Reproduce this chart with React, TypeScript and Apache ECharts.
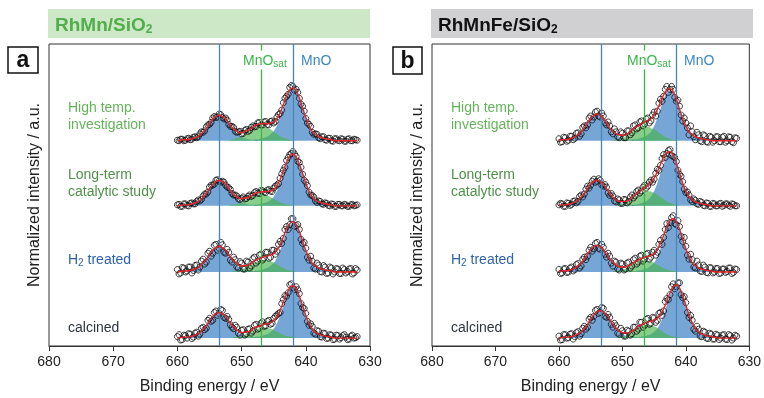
import React, { useEffect, useRef } from "react";
import * as echarts from "echarts";

// ---------- data ----------
const energies = [660, 659.5, 659, 658.5, 658, 657.5, 657, 656.5, 656, 655.5, 655, 654.5, 654, 653.5, 653, 652.5, 652, 651.5, 651, 650.5, 650, 649.5, 649, 648.5, 648, 647.5, 647, 646.5, 646, 645.5, 645, 644.5, 644, 643.5, 643, 642.5, 642, 641.5, 641, 640.5, 640, 639.5, 639, 638.5, 638, 637.5, 637, 636.5, 636, 635.5, 635, 634.5, 634, 633.5, 633, 632.5, 632];
const energies2 = [659.75, 659.25, 658.75, 658.25, 657.75, 657.25, 656.75, 656.25, 655.75, 655.25, 654.75, 654.25, 653.75, 653.25, 652.75, 652.25, 651.75, 651.25, 650.75, 650.25, 649.75, 649.25, 648.75, 648.25, 647.75, 647.25, 646.75, 646.25, 645.75, 645.25, 644.75, 644.25, 643.75, 643.25, 642.75, 642.25, 641.75, 641.25, 640.75, 640.25, 639.75, 639.25, 638.75, 638.25, 637.75, 637.25, 636.75, 636.25, 635.75, 635.25, 634.75, 634.25, 633.75, 633.25, 632.75, 632.25];
const componentStep = 0.5;

// vertical reference lines: MnO 2p1/2, MnO satellite, MnO 2p3/2
const aRefLines = [653.5, 647, 642];
const bRefLines = [653.4, 646.6, 641.5];

// vertical offsets of the stacked spectra: calcined, H2 treated, long-term, high temp
const offsets = [0.16, 1.5, 2.84, 4.16];

// ---- panel a measured points (on energies / energies2) ----
const aCalcinedPoints = [0.03, -0.04, 0.06, 0.0, 0.08, 0.02, 0.12, 0.08, 0.22, 0.2, 0.4, 0.36, 0.55, 0.5, 0.56, 0.4, 0.38, 0.22, 0.26, 0.1, 0.16, 0.06, 0.18, 0.1, 0.26, 0.18, 0.3, 0.24, 0.34, 0.28, 0.4, 0.47, 0.52, 0.78, 0.85, 1.08, 1.02, 1.04, 0.9, 0.62, 0.5, 0.26, 0.24, 0.08, 0.14, 0.02, 0.09, 0.0, 0.06, -0.02, 0.05, 0.01, 0.07, -0.03, 0.04, 0.0, 0.03];
const aCalcinedPoints2 = [0.07, -0.03, 0.05, 0.09, -0.01, 0.1, 0.04, 0.2, 0.17, 0.36, 0.34, 0.52, 0.46, 0.58, 0.42, 0.44, 0.27, 0.19, 0.22, 0.06, 0.17, 0.09, 0.19, 0.14, 0.28, 0.2, 0.33, 0.25, 0.36, 0.3, 0.44, 0.5, 0.7, 0.86, 0.92, 1.1, 0.98, 0.98, 0.7, 0.6, 0.34, 0.29, 0.1, 0.15, 0.03, 0.1, -0.01, 0.07, -0.03, 0.06, -0.02, 0.05, 0.02, -0.02, 0.06, 0.01];
const aH2Points = [0.05, -0.02, 0.08, 0.02, 0.1, 0.03, 0.14, 0.1, 0.26, 0.2, 0.42, 0.38, 0.56, 0.48, 0.55, 0.38, 0.4, 0.2, 0.25, 0.08, 0.18, 0.06, 0.2, 0.12, 0.3, 0.22, 0.36, 0.28, 0.4, 0.3, 0.44, 0.42, 0.62, 0.68, 0.92, 0.96, 1.08, 0.94, 0.86, 0.58, 0.48, 0.24, 0.22, 0.06, 0.14, 0.0, 0.1, -0.02, 0.08, 0.0, 0.06, -0.03, 0.05, 0.01, 0.07, -0.02, 0.04];
const aH2Points2 = [-0.04, 0.09, 0.0, 0.1, -0.02, 0.13, 0.04, 0.22, 0.16, 0.38, 0.32, 0.54, 0.44, 0.6, 0.4, 0.46, 0.24, 0.3, 0.1, 0.21, 0.06, 0.22, 0.08, 0.27, 0.18, 0.34, 0.24, 0.4, 0.28, 0.44, 0.36, 0.56, 0.58, 0.86, 0.86, 1.08, 0.92, 0.96, 0.66, 0.6, 0.3, 0.32, 0.08, 0.18, 0.01, 0.13, -0.03, 0.1, -0.04, 0.07, -0.03, 0.08, -0.02, 0.06, -0.04, 0.07];
const aLongPoints = [0.02, -0.01, 0.04, 0.01, 0.05, 0.04, 0.09, 0.1, 0.2, 0.24, 0.38, 0.42, 0.52, 0.5, 0.5, 0.42, 0.37, 0.25, 0.22, 0.14, 0.15, 0.14, 0.19, 0.19, 0.27, 0.26, 0.31, 0.28, 0.32, 0.3, 0.36, 0.42, 0.56, 0.72, 0.92, 1.04, 1.1, 1.0, 0.88, 0.64, 0.48, 0.28, 0.21, 0.1, 0.1, 0.04, 0.06, 0.01, 0.04, -0.01, 0.03, 0.0, 0.03, -0.01, 0.02, 0.0, 0.02];
const aLongPoints2 = [0.03, -0.01, 0.04, 0.0, 0.06, 0.04, 0.12, 0.13, 0.24, 0.28, 0.42, 0.44, 0.53, 0.48, 0.48, 0.38, 0.33, 0.22, 0.2, 0.13, 0.18, 0.15, 0.22, 0.21, 0.29, 0.25, 0.31, 0.27, 0.33, 0.29, 0.4, 0.45, 0.65, 0.78, 0.98, 1.06, 1.05, 0.9, 0.78, 0.52, 0.41, 0.22, 0.18, 0.07, 0.09, 0.03, 0.05, 0.0, 0.03, -0.01, 0.03, 0.0, 0.02, -0.01, 0.03, 0.01];
const aHighPoints = [0.01, 0.03, 0.0, 0.04, 0.02, 0.07, 0.06, 0.14, 0.17, 0.28, 0.33, 0.46, 0.47, 0.54, 0.47, 0.46, 0.33, 0.29, 0.19, 0.18, 0.14, 0.21, 0.19, 0.27, 0.28, 0.36, 0.32, 0.38, 0.33, 0.39, 0.36, 0.48, 0.55, 0.77, 0.9, 1.08, 1.1, 1.04, 0.86, 0.7, 0.45, 0.33, 0.17, 0.14, 0.06, 0.08, 0.02, 0.05, 0.0, 0.04, 0.01, 0.04, -0.01, 0.03, 0.0, 0.03, 0.01];
const aHighPoints2 = [0.0, 0.03, 0.01, 0.05, 0.03, 0.08, 0.08, 0.18, 0.2, 0.32, 0.37, 0.49, 0.48, 0.53, 0.44, 0.42, 0.29, 0.27, 0.17, 0.19, 0.15, 0.23, 0.21, 0.3, 0.29, 0.37, 0.32, 0.39, 0.32, 0.4, 0.39, 0.53, 0.62, 0.86, 0.94, 1.12, 1.02, 0.98, 0.74, 0.6, 0.36, 0.29, 0.13, 0.13, 0.04, 0.08, 0.01, 0.05, -0.01, 0.04, 0.0, 0.03, -0.01, 0.04, 0.0, 0.02];

// ---- panel b measured points ----
const bCalcinedPoints = [0.04, -0.03, 0.07, 0.01, 0.09, 0.03, 0.13, 0.09, 0.24, 0.22, 0.42, 0.44, 0.58, 0.52, 0.6, 0.42, 0.42, 0.22, 0.25, 0.08, 0.15, 0.04, 0.14, 0.09, 0.22, 0.18, 0.32, 0.26, 0.4, 0.3, 0.41, 0.36, 0.52, 0.55, 0.8, 0.88, 1.1, 1.04, 1.12, 0.82, 0.72, 0.42, 0.36, 0.14, 0.18, 0.03, 0.12, -0.01, 0.08, -0.02, 0.06, 0.0, 0.07, -0.03, 0.05, 0.0, 0.04];
const bCalcinedPoints2 = [-0.04, 0.07, 0.0, 0.08, -0.02, 0.11, 0.04, 0.2, 0.18, 0.38, 0.36, 0.56, 0.5, 0.62, 0.44, 0.48, 0.28, 0.3, 0.1, 0.2, 0.04, 0.16, 0.06, 0.22, 0.14, 0.32, 0.22, 0.38, 0.28, 0.42, 0.32, 0.5, 0.46, 0.74, 0.78, 1.04, 1.0, 1.12, 0.88, 0.84, 0.52, 0.46, 0.18, 0.24, 0.04, 0.14, 0.0, 0.1, -0.02, 0.08, -0.03, 0.06, -0.02, 0.07, -0.04, 0.06];
const bH2Points = [0.05, -0.02, 0.07, 0.0, 0.1, 0.05, 0.17, 0.12, 0.3, 0.32, 0.5, 0.47, 0.6, 0.46, 0.5, 0.3, 0.32, 0.12, 0.2, 0.04, 0.16, 0.06, 0.2, 0.12, 0.28, 0.2, 0.34, 0.26, 0.38, 0.3, 0.44, 0.4, 0.64, 0.7, 0.98, 1.0, 1.14, 0.96, 0.92, 0.62, 0.52, 0.26, 0.25, 0.08, 0.14, 0.01, 0.1, -0.02, 0.08, 0.0, 0.07, -0.02, 0.06, 0.01, 0.08, -0.01, 0.05];
const bH2Points2 = [-0.03, 0.06, -0.01, 0.08, 0.02, 0.15, 0.08, 0.26, 0.25, 0.44, 0.42, 0.58, 0.48, 0.56, 0.36, 0.38, 0.18, 0.22, 0.06, 0.18, 0.04, 0.18, 0.08, 0.25, 0.16, 0.32, 0.22, 0.36, 0.26, 0.4, 0.34, 0.56, 0.56, 0.86, 0.9, 1.1, 0.98, 1.04, 0.72, 0.7, 0.34, 0.36, 0.1, 0.22, 0.02, 0.14, -0.01, 0.09, -0.02, 0.07, -0.03, 0.06, -0.01, 0.08, -0.03, 0.06];
const bLongPoints = [0.02, 0.04, -0.01, 0.05, 0.03, 0.1, 0.09, 0.22, 0.24, 0.4, 0.42, 0.54, 0.5, 0.52, 0.4, 0.38, 0.21, 0.2, 0.08, 0.12, 0.05, 0.12, 0.09, 0.22, 0.2, 0.32, 0.3, 0.42, 0.4, 0.52, 0.54, 0.74, 0.82, 1.04, 1.06, 1.14, 1.0, 0.9, 0.64, 0.49, 0.27, 0.22, 0.09, 0.11, 0.03, 0.07, 0.0, 0.05, -0.01, 0.04, 0.0, 0.05, 0.01, 0.04, -0.01, 0.03, 0.0];
const bLongPoints2 = [0.05, -0.01, 0.06, 0.01, 0.09, 0.06, 0.19, 0.18, 0.34, 0.36, 0.5, 0.48, 0.55, 0.42, 0.43, 0.26, 0.25, 0.1, 0.14, 0.05, 0.13, 0.06, 0.18, 0.16, 0.29, 0.26, 0.38, 0.36, 0.48, 0.48, 0.66, 0.72, 0.96, 0.98, 1.12, 1.02, 0.98, 0.72, 0.6, 0.34, 0.28, 0.12, 0.14, 0.04, 0.09, 0.01, 0.06, -0.01, 0.05, 0.0, 0.04, -0.01, 0.04, 0.01, 0.04, 0.0];
const bHighPoints = [0.04, -0.02, 0.06, 0.01, 0.09, 0.05, 0.16, 0.14, 0.3, 0.32, 0.5, 0.48, 0.6, 0.48, 0.5, 0.32, 0.3, 0.14, 0.18, 0.06, 0.15, 0.06, 0.2, 0.16, 0.32, 0.26, 0.4, 0.34, 0.46, 0.4, 0.58, 0.6, 0.84, 0.9, 1.1, 1.04, 1.04, 0.8, 0.7, 0.4, 0.36, 0.12, 0.18, 0.02, 0.12, -0.02, 0.1, -0.03, 0.07, 0.0, 0.08, -0.02, 0.09, 0.0, 0.07, -0.04, 0.05];
const bHighPoints2 = [-0.03, 0.07, -0.01, 0.09, 0.02, 0.15, 0.09, 0.27, 0.26, 0.46, 0.42, 0.58, 0.5, 0.56, 0.36, 0.38, 0.18, 0.24, 0.08, 0.18, 0.06, 0.2, 0.12, 0.3, 0.24, 0.38, 0.3, 0.44, 0.36, 0.52, 0.5, 0.76, 0.8, 1.04, 0.98, 1.1, 0.88, 0.82, 0.52, 0.46, 0.26, 0.3, 0.08, 0.17, 0.0, 0.12, -0.02, 0.09, -0.03, 0.08, -0.02, 0.07, -0.03, 0.08, -0.02, 0.06];

// ---- fitted components (values every 0.5 eV from the given start energy downwards) ----
const aCalcinedP12 = [0.01, 0.02, 0.02, 0.03, 0.05, 0.07, 0.11, 0.18, 0.25, 0.35, 0.44, 0.49, 0.52, 0.49, 0.44, 0.35, 0.25, 0.18, 0.11, 0.07, 0.05, 0.03, 0.02, 0.02, 0.01];
const aCalcinedSat = [0.01, 0.02, 0.03, 0.04, 0.07, 0.1, 0.13, 0.17, 0.19, 0.21, 0.22, 0.21, 0.19, 0.17, 0.13, 0.1, 0.07, 0.04, 0.03, 0.02, 0.01];
const aCalcinedP32 = [0.02, 0.03, 0.04, 0.06, 0.08, 0.12, 0.19, 0.3, 0.46, 0.66, 0.85, 0.99, 1.04, 0.99, 0.85, 0.66, 0.46, 0.3, 0.19, 0.12, 0.08, 0.06, 0.04, 0.03, 0.02];
const aH2P12 = [0.01, 0.02, 0.02, 0.03, 0.05, 0.07, 0.11, 0.18, 0.25, 0.35, 0.44, 0.49, 0.52, 0.49, 0.44, 0.35, 0.25, 0.18, 0.11, 0.07, 0.05, 0.03, 0.02, 0.02, 0.01];
const aH2Sat = [0.01, 0.02, 0.03, 0.05, 0.08, 0.11, 0.15, 0.19, 0.22, 0.24, 0.25, 0.24, 0.22, 0.19, 0.15, 0.11, 0.08, 0.05, 0.03, 0.02, 0.01];
const aH2P32 = [0.02, 0.03, 0.04, 0.06, 0.08, 0.12, 0.18, 0.29, 0.44, 0.63, 0.82, 0.95, 1.0, 0.95, 0.82, 0.63, 0.44, 0.29, 0.18, 0.12, 0.08, 0.06, 0.04, 0.03, 0.02];
const aLongP12 = [0.01, 0.02, 0.02, 0.03, 0.05, 0.07, 0.11, 0.18, 0.25, 0.35, 0.44, 0.49, 0.52, 0.49, 0.44, 0.35, 0.25, 0.18, 0.11, 0.07, 0.05, 0.03, 0.02, 0.02, 0.01];
const aLongSat = [0.01, 0.02, 0.03, 0.05, 0.07, 0.11, 0.14, 0.18, 0.21, 0.23, 0.24, 0.23, 0.21, 0.18, 0.14, 0.11, 0.07, 0.05, 0.03, 0.02, 0.01];
const aLongP32 = [0.02, 0.03, 0.04, 0.06, 0.08, 0.12, 0.19, 0.3, 0.46, 0.66, 0.85, 0.99, 1.04, 0.99, 0.85, 0.66, 0.46, 0.3, 0.19, 0.12, 0.08, 0.06, 0.04, 0.03, 0.02];
const aHighP12 = [0.01, 0.02, 0.02, 0.03, 0.05, 0.07, 0.11, 0.18, 0.25, 0.35, 0.44, 0.49, 0.52, 0.49, 0.44, 0.35, 0.25, 0.18, 0.11, 0.07, 0.05, 0.03, 0.02, 0.02, 0.01];
const aHighSat = [0.01, 0.02, 0.04, 0.06, 0.09, 0.14, 0.18, 0.23, 0.26, 0.29, 0.3, 0.29, 0.26, 0.23, 0.18, 0.14, 0.09, 0.06, 0.04, 0.02, 0.01];
const aHighP32 = [0.02, 0.03, 0.04, 0.06, 0.08, 0.13, 0.19, 0.31, 0.47, 0.67, 0.87, 1.01, 1.06, 1.01, 0.87, 0.67, 0.47, 0.31, 0.19, 0.13, 0.08, 0.06, 0.04, 0.03, 0.02];

const bCalcinedP12 = [0.01, 0.02, 0.02, 0.03, 0.05, 0.08, 0.12, 0.19, 0.27, 0.38, 0.47, 0.53, 0.56, 0.53, 0.47, 0.38, 0.27, 0.19, 0.12, 0.08, 0.05, 0.03, 0.02, 0.02, 0.01];
const bCalcinedSat = [0.01, 0.02, 0.03, 0.05, 0.08, 0.12, 0.16, 0.21, 0.24, 0.26, 0.27, 0.26, 0.24, 0.21, 0.16, 0.12, 0.08, 0.05, 0.03, 0.02, 0.01];
const bCalcinedP32 = [0.02, 0.03, 0.04, 0.06, 0.08, 0.13, 0.19, 0.31, 0.47, 0.67, 0.87, 1.01, 1.06, 1.01, 0.87, 0.67, 0.47, 0.31, 0.19, 0.13, 0.08, 0.06, 0.04, 0.03, 0.02];
const bH2P12 = [0.01, 0.02, 0.02, 0.03, 0.05, 0.08, 0.12, 0.18, 0.26, 0.36, 0.45, 0.51, 0.54, 0.51, 0.45, 0.36, 0.26, 0.18, 0.12, 0.08, 0.05, 0.03, 0.02, 0.02, 0.01];
const bH2Sat = [0.01, 0.02, 0.03, 0.05, 0.07, 0.11, 0.14, 0.18, 0.21, 0.23, 0.24, 0.23, 0.21, 0.18, 0.14, 0.11, 0.07, 0.05, 0.03, 0.02, 0.01];
const bH2P32 = [0.02, 0.03, 0.04, 0.06, 0.08, 0.13, 0.19, 0.31, 0.47, 0.67, 0.87, 1.01, 1.06, 1.01, 0.87, 0.67, 0.47, 0.31, 0.19, 0.13, 0.08, 0.06, 0.04, 0.03, 0.02];
const bLongP12 = [0.01, 0.02, 0.02, 0.03, 0.05, 0.07, 0.11, 0.18, 0.25, 0.35, 0.44, 0.49, 0.52, 0.49, 0.44, 0.35, 0.25, 0.18, 0.11, 0.07, 0.05, 0.03, 0.02, 0.02, 0.01];
const bLongSat = [0.01, 0.02, 0.04, 0.06, 0.09, 0.14, 0.18, 0.23, 0.26, 0.29, 0.3, 0.29, 0.26, 0.23, 0.18, 0.14, 0.09, 0.06, 0.04, 0.02, 0.01];
const bLongP32 = [0.02, 0.03, 0.04, 0.06, 0.08, 0.12, 0.19, 0.3, 0.46, 0.66, 0.85, 0.99, 1.04, 0.99, 0.85, 0.66, 0.46, 0.3, 0.19, 0.12, 0.08, 0.06, 0.04, 0.03, 0.02];
const bHighP12 = [0.01, 0.02, 0.02, 0.03, 0.05, 0.08, 0.12, 0.18, 0.26, 0.36, 0.45, 0.51, 0.54, 0.51, 0.45, 0.36, 0.26, 0.18, 0.12, 0.08, 0.05, 0.03, 0.02, 0.02, 0.01];
const bHighSat = [0.01, 0.02, 0.04, 0.06, 0.09, 0.14, 0.18, 0.23, 0.26, 0.29, 0.3, 0.29, 0.26, 0.23, 0.18, 0.14, 0.09, 0.06, 0.04, 0.02, 0.01];
const bHighP32 = [0.02, 0.03, 0.04, 0.06, 0.08, 0.12, 0.18, 0.3, 0.45, 0.64, 0.84, 0.97, 1.02, 0.97, 0.84, 0.64, 0.45, 0.3, 0.18, 0.12, 0.08, 0.06, 0.04, 0.03, 0.02];

// start energies of [2p1/2, satellite, 2p3/2] components for each spectrum (calcined → high temp)
const aComponentStarts = [[659.5, 651.5, 648], [659.5, 651.5, 648], [659.5, 652, 648], [659.5, 652, 648]];
const bComponentStarts = [[659.5, 651, 647.5], [660, 651.5, 648], [660, 651, 648.5], [660, 651.5, 648.5]];

const aPoints = [aCalcinedPoints, aH2Points, aLongPoints, aHighPoints];
const aPoints2 = [aCalcinedPoints2, aH2Points2, aLongPoints2, aHighPoints2];
const bPoints = [bCalcinedPoints, bH2Points, bLongPoints, bHighPoints];
const bPoints2 = [bCalcinedPoints2, bH2Points2, bLongPoints2, bHighPoints2];
const aComponents = [[aCalcinedP12, aCalcinedSat, aCalcinedP32], [aH2P12, aH2Sat, aH2P32], [aLongP12, aLongSat, aLongP32], [aHighP12, aHighSat, aHighP32]];
const bComponents = [[bCalcinedP12, bCalcinedSat, bCalcinedP32], [bH2P12, bH2Sat, bH2P32], [bLongP12, bLongSat, bLongP32], [bHighP12, bHighSat, bHighP32]];

// ---------- styling ----------
const FONT = "'Liberation Sans', Arial, Helvetica, sans-serif";
const BLUE_FILL = "#3a80c3";
const GREEN_FILL = "#46b44b";
const BLUE_LINE = "#4a85b8";
const GREEN_LINE = "#3cb44a";
const FIT_RED = "#e3262b";

const labelDefs = [
  { text: "calcined", color: "#2e3440", y: 327 },
  { text: "{n|H}{s|2}{n| treated}", color: "#2f63a8", y: 259 },
  { text: "Long-term\ncatalytic study", color: "#50914a", y: 182 },
  { text: "High temp.\ninvestigation", color: "#64b45a", y: 115.5 },
];

function compSeriesData(values: number[], start: number, off: number) {
  return values.map((v, i) => [start - componentStep * i, off + v]);
}

function fitSeriesData(comps: number[][], starts: number[], off: number) {
  const sum = new Map<number, number>();
  comps.forEach((vals, c) => {
    vals.forEach((v, i) => {
      const k = Math.round((starts[c] - componentStep * i) * 2);
      sum.set(k, (sum.get(k) || 0) + v);
    });
  });
  return energies.map((e) => [e, off + (sum.get(Math.round(e * 2)) || 0)]);
}

function panelSeries(p: number, points: number[][], points2: number[][], comps: number[][][], starts: number[][], lines: number[]) {
  const out: any[] = [];
  const ax = { xAxisIndex: p, yAxisIndex: p };
  comps.forEach((cs, k) => {
    const off = offsets[k];
    [0, 2, 1].forEach((c) => {
      const isSat = c === 1;
      out.push({
        ...ax,
        type: "line",
        data: compSeriesData(cs[c], starts[k][c], off),
        smooth: 0.3,
        symbol: "none",
        silent: true,
        z: 2,
        lineStyle: { opacity: 0 },
        areaStyle: { color: isSat ? GREEN_FILL : BLUE_FILL, opacity: isSat ? 0.65 : 0.7, origin: off },
      });
    });
  });
  out.push({
    ...ax,
    type: "line",
    data: [],
    z: 3,
    markLine: {
      silent: true,
      symbol: ["none", "none"],
      label: { show: false },
      lineStyle: { type: "solid" },
      data: lines.map((x, j) => ({ xAxis: x, lineStyle: { color: j === 1 ? GREEN_LINE : BLUE_LINE, width: 1.3, type: "solid" } })),
    },
  });
  points.forEach((pts, k) => {
    const pts2 = points2[k];
    out.push({
      ...ax,
      type: "scatter",
      z: 4,
      silent: true,
      symbol: "circle",
      symbolSize: 6,
      itemStyle: { color: "rgba(255,255,255,0)", borderColor: "#111", borderWidth: 1 },
      data: [
        ...energies.map((e, i) => [e, offsets[k] + pts[i]]),
        ...energies2.map((e, i) => [e, offsets[k] + pts2[i]]),
      ],
    });
  });
  comps.forEach((cs, k) => {
    out.push({
      ...ax,
      type: "line",
      z: 5,
      silent: true,
      smooth: 0.3,
      symbol: "none",
      lineStyle: { color: FIT_RED, width: 1.4 },
      data: fitSeriesData(cs, starts[k], offsets[k]),
    });
  });
  return out;
}

function axesFor(p: number) {
  const x = {
    type: "value",
    gridIndex: p,
    min: 630,
    max: 680,
    interval: 10,
    inverse: true,
    axisLine: { show: true, onZero: false, lineStyle: { color: "#333", width: 1 } },
    axisTick: { show: true, length: 5, lineStyle: { color: "#333" } },
    axisLabel: { fontSize: 14, color: "#222", margin: 8, fontFamily: FONT },
    splitLine: { show: false },
    name: "Binding energy / eV",
    nameLocation: "middle",
    nameGap: 31,
    nameTextStyle: { fontSize: 16, color: "#222", fontFamily: FONT },
  };
  const y = {
    type: "value",
    gridIndex: p,
    min: 0,
    max: 6.12,
    axisLine: { show: false },
    axisTick: { show: false },
    axisLabel: { show: false },
    splitLine: { show: false },
    name: "Normalized intensity / a.u.",
    nameLocation: "middle",
    nameGap: 8,
    nameRotate: 90,
    nameTextStyle: { fontSize: 16, color: "#222", fontFamily: FONT },
  };
  return { x, y };
}

function panelGraphics(left: number, titleMain: string, titleColor: string, barColor: string, letter: string, letterBox: number[], satX: number, mnoX: number) {
  const g: any[] = [];
  g.push({ type: "rect", shape: { x: left - 1, y: 9, width: 322, height: 29 }, style: { fill: barColor }, silent: true });
  g.push({
    type: "text",
    x: left + 6,
    y: 24,
    silent: true,
    style: {
      text: `{m|${titleMain}}{s|2}`,
      fill: titleColor,
      fontFamily: FONT,
      align: "left",
      verticalAlign: "middle",
      rich: {
        m: { fontSize: 19, fontWeight: "bold", fill: titleColor, fontFamily: FONT },
        s: { fontSize: 12, fontWeight: "bold", fill: titleColor, fontFamily: FONT, padding: [10, 0, 0, 0] },
      },
    },
  });
  g.push({
    type: "rect",
    shape: { x: letterBox[0], y: letterBox[1], width: letterBox[2], height: letterBox[3] },
    style: { fill: "#fff", stroke: "#111", lineWidth: 1.5 },
    silent: true,
  });
  g.push({
    type: "text",
    x: letterBox[0] + letterBox[2] / 2,
    y: letterBox[1] + letterBox[3] / 2 - 1,
    silent: true,
    style: { text: letter, fontSize: 23, fontWeight: "bold", fill: "#111", fontFamily: FONT, align: "center", verticalAlign: "middle" },
  });
  g.push({
    type: "text",
    x: satX,
    y: 60,
    z: 10,
    silent: true,
    style: {
      text: "{n|MnO}{s|sat}",
      fill: GREEN_LINE,
      fontFamily: FONT,
      align: "left",
      verticalAlign: "middle",
      backgroundColor: "#fff",
      padding: [1, 1, 1, 1],
      rich: {
        n: { fontSize: 14, fill: GREEN_LINE, fontFamily: FONT },
        s: { fontSize: 10, fill: GREEN_LINE, fontFamily: FONT, padding: [7, 0, 0, 0] },
      },
    },
  });
  g.push({
    type: "text",
    x: mnoX,
    y: 60,
    silent: true,
    style: { text: "MnO", fontSize: 14, fill: "#3d87c2", fontFamily: FONT, align: "left", verticalAlign: "middle" },
  });
  labelDefs.forEach((d) => {
    g.push({
      type: "text",
      x: left + 19,
      y: d.y,
      silent: true,
      style: {
        text: d.text,
        fontSize: 14,
        lineHeight: 17,
        fill: d.color,
        fontFamily: FONT,
        align: "left",
        verticalAlign: "middle",
        rich: {
          n: { fontSize: 14, fill: d.color, fontFamily: FONT },
          s: { fontSize: 10, fill: d.color, fontFamily: FONT, padding: [7, 0, 0, 0] },
        },
      },
    });
  });
  return g;
}

export default function App() {
  const ref = useRef<HTMLDivElement | null>(null);
  useEffect(() => {
    if (!ref.current) return;
    const chart = echarts.init(ref.current, undefined, { renderer: "svg" });
    const a = axesFor(0);
    const b = axesFor(1);
    const option: any = {
      animation: false,
      textStyle: { fontFamily: FONT },
      grid: [
        { left: 49, top: 44, width: 321, height: 306, show: true, borderColor: "#333", borderWidth: 1, backgroundColor: "transparent" },
        { left: 432, top: 44, width: 321, height: 306, show: true, borderColor: "#333", borderWidth: 1, backgroundColor: "transparent" },
      ],
      xAxis: [a.x, b.x],
      yAxis: [a.y, b.y],
      series: [
        ...panelSeries(0, aPoints, aPoints2, aComponents, aComponentStarts, aRefLines),
        ...panelSeries(1, bPoints, bPoints2, bComponents, bComponentStarts, bRefLines),
      ],
      graphic: [
        ...panelGraphics(49, "RhMn/SiO", "#52ad4c", "#cde8c6", "a", [8, 47, 30, 26], 242, 301),
        ...panelGraphics(432, "RhMnFe/SiO", "#111", "#d0d0d3", "b", [393, 47, 29, 27], 626, 684),
      ],
    };
    chart.setOption(option);
    return () => chart.dispose();
  }, []);
  return <div ref={ref} style={{ position: "fixed", left: 0, top: 0, width: 764, height: 398 }} />;
}
